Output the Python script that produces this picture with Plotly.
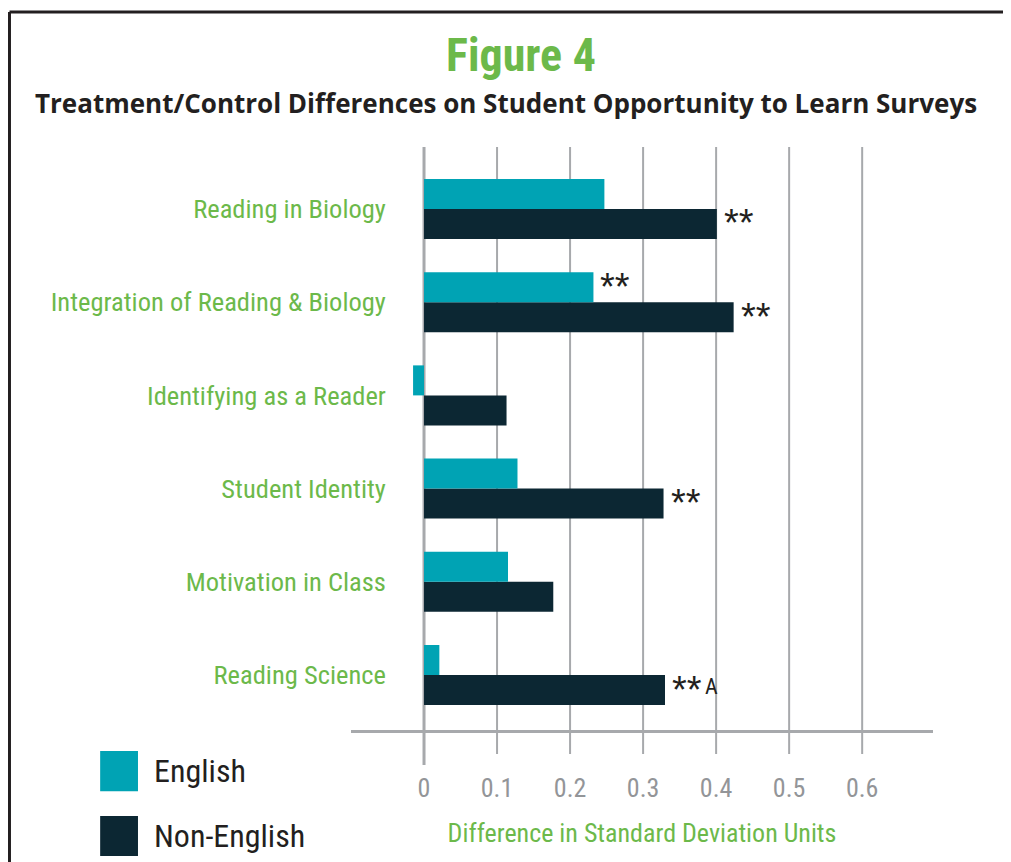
import plotly.graph_objects as go

# ---- data ----
categories = ["Reading in Biology", "Integration of Reading & Biology", "Identifying as a Reader",
              "Student Identity", "Motivation in Class", "Reading Science"]
english = [0.247, 0.232, -0.015, 0.128, 0.115, 0.021]
non_english = [0.401, 0.424, 0.113, 0.328, 0.177, 0.330]
english_sig = ["", "**", "", "", "", ""]
non_english_sig = ["**", "**", "", "**", "", "**"]
non_english_note = ["", "", "", "", "", "A"]
tick_vals = [0, 0.1, 0.2, 0.3, 0.4, 0.5, 0.6]
tick_text = ["0", "0.1", "0.2", "0.3", "0.4", "0.5", "0.6"]
series_names = ["English", "Non-English"]

# ---- styles ----
TEAL = "#00a3b4"
DARK = "#0c2733"
GREEN = "#6cb94a"
GRID = "#a7a9ac"
TXT = "#231f20"
COND = "Roboto Condensed, Liberation Sans, sans-serif"

fig = go.Figure()
fig.add_trace(go.Bar(y=categories, x=non_english, orientation="h", name=series_names[1],
                     marker=dict(color=DARK, line=dict(width=0)), showlegend=False))
fig.add_trace(go.Bar(y=categories, x=english, orientation="h", name=series_names[0],
                     marker=dict(color=TEAL, line=dict(width=0)), showlegend=False))

shapes = []
for v in tick_vals:
    shapes.append(dict(type="line", xref="x", yref="paper", x0=v, x1=v,
                       y0=-0.060 if v == 0 else -0.041, y1=1,
                       line=dict(color=GRID, width=3 if v == 0 else 2), layer="below"))

# frame
shapes.append(dict(type="line", xref="paper", yref="paper", x0=-0.5868, x1=1.2, y0=1.2316, y1=1.2316,
                   line=dict(color=TXT, width=3)))
shapes.append(dict(type="line", xref="paper", yref="paper", x0=-0.5868, x1=-0.5868, y0=1.2316, y1=-0.3,
                   line=dict(color=TXT, width=3)))

# legend swatches
legend_colors = [TEAL, DARK]
legend_y = [(-0.036, -0.105), (-0.1475, -0.216)]
annotations = []
for name, col, (ya, yb) in zip(series_names, legend_colors, legend_y):
    shapes.append(dict(type="rect", xref="paper", yref="paper", x0=-0.431, x1=-0.366, y0=yb, y1=ya,
                       fillcolor=col, line=dict(width=0)))
    annotations.append(dict(xref="paper", yref="paper", x=-0.342, y=(ya + yb) / 2, text=name,
                            showarrow=False, xanchor="left", yanchor="middle",
                            font=dict(family=COND, size=32, color=TXT)))

# significance marks
STAR_FONT = dict(family="Liberation Sans, Arial, sans-serif", size=38, color=TXT)
for cat, val, s in zip(categories, english, english_sig):
    if s:
        annotations.append(dict(x=val, y=cat, xref="x", yref="y", text=s, showarrow=False,
                                xanchor="left", yanchor="middle", xshift=5, yshift=15.5,
                                font=STAR_FONT))
for cat, val, s, n in zip(categories, non_english, non_english_sig, non_english_note):
    if s:
        annotations.append(dict(x=val, y=cat, xref="x", yref="y", text=s, showarrow=False,
                                xanchor="left", yanchor="middle", xshift=5, yshift=-14.5,
                                font=STAR_FONT))
    if n:
        annotations.append(dict(x=val, y=cat, xref="x", yref="y", text=n, showarrow=False,
                                xanchor="left", yanchor="middle", xshift=38, yshift=-11,
                                font=dict(family=COND, size=22, color=TXT)))

# titles
annotations.append(dict(xref="paper", yref="paper", x=0.292, y=1.158, text="<b>Figure 4</b>",
                        showarrow=False, xanchor="center", yanchor="middle",
                        font=dict(family=COND, size=46, color=GREEN)))
annotations.append(dict(xref="paper", yref="paper", x=0.267, y=1.0755,
                        text="Treatment/Control Differences on Student Opportunity to Learn Surveys",
                        showarrow=False, xanchor="center", yanchor="middle",
                        font=dict(family="Open Sans, sans-serif", size=26, color=TXT, weight=700)))

fig.update_layout(
    width=1003, height=854,
    margin=dict(l=343, r=78, t=139, b=132, pad=0, autoexpand=False),
    paper_bgcolor="white", plot_bgcolor="white",
    barmode="group", bargap=0.356, bargroupgap=0,
    shapes=shapes, annotations=annotations,
    xaxis=dict(range=[-0.1, 0.697], tickvals=tick_vals, ticktext=tick_text, showgrid=False,
               zeroline=False, showline=True, linecolor=GRID, linewidth=3, ticks="",
               ticklabelstandoff=33, automargin=False,
               tickfont=dict(family=COND, size=26, color="#939598"),
               title=dict(text="Difference in Standard Deviation Units", standoff=22,
                          font=dict(family=COND, size=26, color=GREEN))),
    yaxis=dict(type="category", categoryorder="array", categoryarray=categories[::-1],
               range=[-0.59, 5.665], anchor="free", position=0.060, showgrid=False,
               zeroline=False, showline=False, ticks="", automargin=False,
               tickfont=dict(family=COND, size=26.5, color=GREEN)),
)

fig.write_html("out.html")
